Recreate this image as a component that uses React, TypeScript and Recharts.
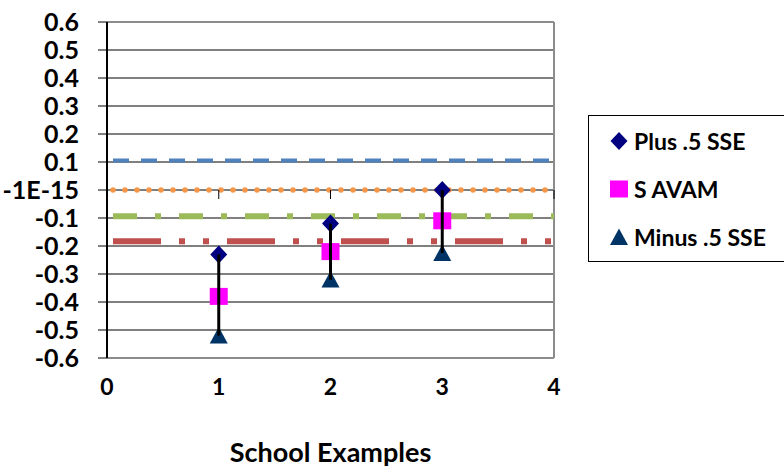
import {
  CartesianGrid,
  Label,
  ReferenceLine,
  Scatter,
  ScatterChart,
  XAxis,
  YAxis
} from "recharts";

// x positions and tick labels
const schools = [1, 2, 3];
const xTicks = [0, 1, 2, 3, 4];
const yTicks = [0.6, 0.5, 0.4, 0.3, 0.2, 0.1, 0, -0.1, -0.2, -0.3, -0.4, -0.5, -0.6];
const yTickLabels = ["0.6", "0.5", "0.4", "0.3", "0.2", "0.1", "-1E-15", "-0.1", "-0.2", "-0.3", "-0.4", "-0.5", "-0.6"];

// series values
const plusHalfSse = [-0.23, -0.12, 0.0];
const sAvam = [-0.38, -0.22, -0.11];
const minusHalfSse = [-0.52, -0.32, -0.225];

// horizontal benchmark levels
const benchmarkLevels = [0.105, 0, -0.094, -0.183];

const FONT = "Lato, 'Open Sans', sans-serif";

const benchmarkStyles = [
  { stroke: "#4F81BD", strokeWidth: 4, strokeDasharray: "16 12" },
  { stroke: "#F79646", strokeWidth: 5.5, strokeDasharray: "0 12", strokeLinecap: "round" },
  { stroke: "#9BBB59", strokeWidth: 6, strokeDasharray: "24 18 6 18" },
  { stroke: "#C0504D", strokeWidth: 6, strokeDasharray: "48 18 6 18 6 18" }
];

const toPoints = (values: number[]) => values.map((y, i) => ({ x: schools[i], y }));

const DiamondMark = ({ cx, cy }: any) => (
  <polygon points={`${cx},${cy - 9} ${cx + 8.5},${cy} ${cx},${cy + 9} ${cx - 8.5},${cy}`} fill="#000080" />
);
const SquareMark = ({ cx, cy }: any) => <rect x={cx - 9} y={cy - 8.5} width={18} height={17} fill="#FF00FF" />;
const TriangleMark = ({ cx, cy }: any) => (
  <polygon points={`${cx},${cy - 8.5} ${cx + 9},${cy + 8} ${cx - 9},${cy + 8}`} fill="#003366" />
);
const TickMark = ({ cx, cy }: any) => <line x1={cx} y1={cy} x2={cx} y2={cy + 9} stroke="#000" strokeWidth={1} />;
const NoMark = () => <g />;

const series = [
  { name: "Plus .5 SSE", values: plusHalfSse, shape: DiamondMark },
  { name: "S AVAM", values: sAvam, shape: SquareMark },
  { name: "Minus .5 SSE", values: minusHalfSse, shape: TriangleMark }
];

const LegendBox = () => (
  <div
    style={{
      position: "absolute",
      left: 588,
      top: 115,
      width: 210,
      height: 145,
      border: "1px solid #000",
      background: "#fff",
      fontFamily: FONT,
      fontWeight: 700,
      fontSize: 23
    }}
  >
    {series.map((s, i) => (
      <div
        key={s.name}
        style={{ position: "absolute", left: 20, top: 11 + i * 48, height: 28, display: "flex", alignItems: "center" }}
      >
        <svg width={22} height={22}>
          <s.shape cx={10} cy={11} />
        </svg>
        <span style={{ marginLeft: 3 }}>{s.name}</span>
      </div>
    ))}
  </div>
);

export default function App() {
  return (
    <div style={{ position: "absolute", left: 0, top: 0, width: 784, height: 470, overflow: "hidden", background: "#fff" }}>
      <ScatterChart width={784} height={470} margin={{ top: 22, right: 230, bottom: 0, left: 0 }}>
        <CartesianGrid horizontal vertical={false} stroke="#000" strokeWidth={1} />
        <XAxis
          type="number"
          dataKey="x"
          domain={[0, 4]}
          ticks={xTicks}
          interval={0}
          axisLine={false}
          tickLine={false}
          tickSize={0}
          tickMargin={21}
          height={112}
          tick={{ fill: "#000", fontSize: 23, fontWeight: 700, fontFamily: FONT }}
        >
          <Label
            value="School Examples"
            position="insideBottom"
            offset={8}
            style={{ fill: "#000", fontSize: 27, fontWeight: 700, fontFamily: FONT }}
          />
        </XAxis>
        <YAxis
          type="number"
          dataKey="y"
          domain={[-0.6, 0.6]}
          ticks={yTicks}
          interval={0}
          width={107}
          tickSize={9}
          tickMargin={19}
          axisLine={{ stroke: "#000", strokeWidth: 2 }}
          tickLine={{ stroke: "#000" }}
          tickFormatter={(v: number) => yTickLabels[yTicks.findIndex((t) => Math.abs(t - v) < 1e-9)] ?? String(v)}
          tick={{ fill: "#000", fontSize: 25, fontWeight: 700, fontFamily: FONT }}
        />
        <ReferenceLine y={0.6} stroke="#8c8c8c" strokeWidth={2} />
        <ReferenceLine y={-0.6} stroke="#8c8c8c" strokeWidth={2} />
        <ReferenceLine x={4} stroke="#8c8c8c" strokeWidth={2} />

        {benchmarkLevels.map((level, i) => (
          <Scatter
            key={`bench-${i}`}
            data={[
              { x: xTicks[0], y: level },
              { x: xTicks[xTicks.length - 1], y: level }
            ]}
            line={{ ...benchmarkStyles[i], strokeDashoffset: -6 }}
            shape={NoMark}
            isAnimationActive={false}
          />
        ))}

        <Scatter data={xTicks.map((x) => ({ x, y: 0 }))} shape={TickMark} isAnimationActive={false} />

        {series.map((s) => (
          <Scatter key={s.name} name={s.name} data={toPoints(s.values)} shape={s.shape} isAnimationActive={false} />
        ))}

        {schools.map((x, i) => (
          <Scatter
            key={`hilo-${x}`}
            data={[
              { x, y: plusHalfSse[i] },
              { x, y: minusHalfSse[i] }
            ]}
            line={{ stroke: "#000", strokeWidth: 3 }}
            shape={NoMark}
            isAnimationActive={false}
          />
        ))}
      </ScatterChart>
      <LegendBox />
    </div>
  );
}
